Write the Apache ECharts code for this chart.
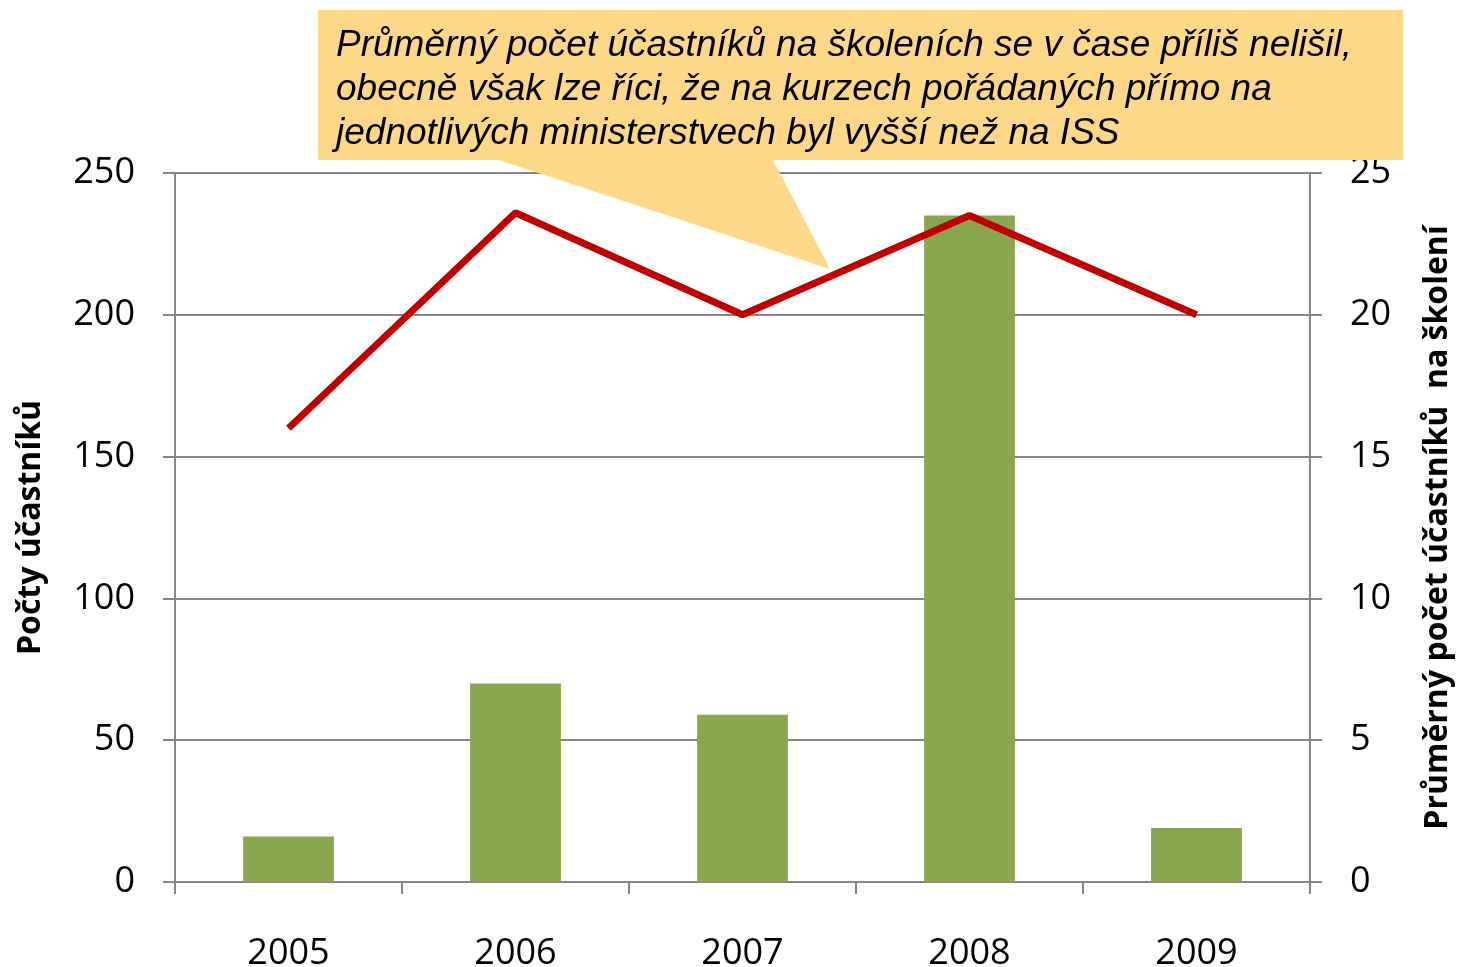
<!DOCTYPE html>
<html>
<head>
<meta charset="utf-8">
<script src="https://cdn.jsdelivr.net/npm/echarts@6/dist/echarts.min.js"></script>
<style>
  html, body { margin: 0; padding: 0; background: #fff; }
  #chart { width: 1459px; height: 967px; }
</style>
</head>
<body>
<div id="chart"></div>
<script>
  // roky
  const years = ['2005', '2006', '2007', '2008', '2009'];
  // počty účastníků (levá osa)
  const participants = [16, 70, 59, 235, 19];
  // průměrný počet účastníků na školení (pravá osa)
  const avgPerCourse = [16, 23.6, 20, 23.5, 20];

  const noteLines = [
    'Průměrný počet účastníků na školeních se v čase příliš nelišil,',
    'obecně však lze říci, že na kurzech pořádaných přímo na',
    'jednotlivých ministerstvech byl vyšší než na ISS'
  ];

  const gray = '#868686';
  const labelFont = '"Open Sans", "Liberation Sans", sans-serif';

  const chart = echarts.init(document.getElementById('chart'));
  chart.setOption({
    animation: false,
    backgroundColor: '#fff',
    grid: { left: 175, right: 149, top: 173, bottom: 85, containLabel: false, outerBoundsMode: 'none' },
    xAxis: {
      type: 'category',
      data: years,
      axisLine: { lineStyle: { color: gray, width: 2 } },
      axisTick: { show: true, length: 12, lineStyle: { color: gray, width: 2 } },
      axisLabel: { color: '#000', fontSize: 36, fontFamily: labelFont, margin: 54 }
    },
    yAxis: [
      {
        type: 'value',
        min: 0, max: 250, interval: 50,
        name: 'Počty účastníků',
        nameLocation: 'middle',
        nameGap: 128,
        nameTextStyle: { color: '#000', fontSize: 32, fontWeight: 'bold', fontFamily: labelFont },
        axisLine: { show: true, lineStyle: { color: gray, width: 2 } },
        axisTick: { show: true, length: 12, lineStyle: { color: gray, width: 2 } },
        axisLabel: { color: '#000', fontSize: 36, fontFamily: labelFont, margin: 40 },
        splitLine: { lineStyle: { color: gray, width: 2 } }
      },
      {
        type: 'value',
        min: 0, max: 25, interval: 5,
        position: 'right',
        name: 'Průměrný počet účastníků  na školení',
        nameLocation: 'middle',
        nameGap: 112,
        nameTextStyle: { color: '#000', fontSize: 32, fontWeight: 'bold', fontFamily: labelFont },
        axisLine: { show: true, lineStyle: { color: gray, width: 2 } },
        axisTick: { show: true, length: 12, lineStyle: { color: gray, width: 2 } },
        axisLabel: { color: '#000', fontSize: 36, fontFamily: labelFont, margin: 40 },
        splitLine: { show: false }
      }
    ],
    series: [
      {
        name: 'Počty účastníků',
        type: 'bar',
        data: participants,
        barWidth: '40%',
        itemStyle: { color: '#8AA64E' }
      },
      {
        name: 'Průměrný počet účastníků na školení',
        type: 'line',
        yAxisIndex: 1,
        data: avgPerCourse,
        symbol: 'none',
        lineStyle: { color: '#C00000', width: 7 },
        z: 5
      }
    ],
    graphic: [
      {
        type: 'polygon',
        z: 100,
        shape: {
          points: [[318, 10], [1403, 10], [1403, 160], [773, 160], [830, 269], [499, 160], [318, 160]]
        },
        style: { fill: '#FDD888' }
      },
      {
        type: 'text',
        z: 101,
        left: 336,
        top: 24,
        style: {
          text: noteLines.join('\n'),
          fill: '#000',
          font: 'italic 37px "Liberation Sans", Arial, sans-serif',
          lineHeight: 44
        }
      }
    ]
  });
</script>
</body>
</html>
